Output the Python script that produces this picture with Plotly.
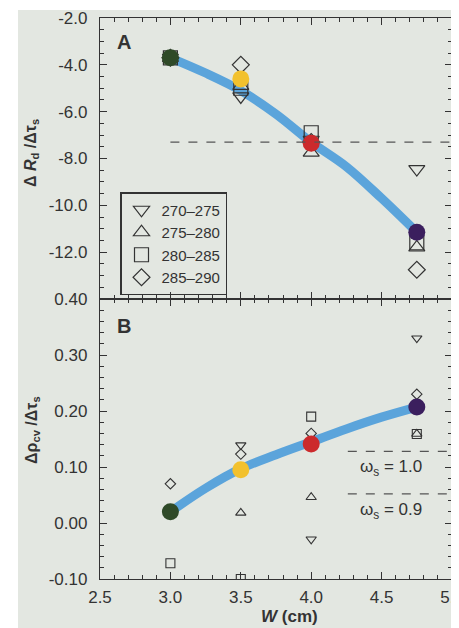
import plotly.graph_objects as go

# ---- data ----
W = [3.0, 3.5, 4.0, 4.75]
series_names = ["270–275", "275–280", "280–285", "285–290"]

A_270 = [-3.7, -5.35, -7.2, -8.45]
A_275 = [-3.7, -4.9, -7.75, -11.8]
A_280 = [-3.7, -5.0, -6.9, -11.6]
A_285 = [-3.7, -4.0, -7.3, -12.75]
A_mean = [-3.7, -4.6, -7.35, -11.15]

B_270 = [0.02, 0.139, -0.029, 0.33]
B_275 = [0.02, 0.018, 0.046, 0.159]
B_280 = [-0.072, -0.10, 0.19, 0.159]
B_285 = [0.07, 0.123, 0.16, 0.23]
B_mean = [0.02, 0.095, 0.141, 0.207]

fit_W = [3.0, 3.25, 3.5, 3.75, 4.0, 4.25, 4.5, 4.75]
fit_A = [-3.7, -4.35, -5.1, -6.1, -7.3, -8.35, -9.7, -11.15]
fit_B = [0.02, 0.062, 0.097, 0.122, 0.145, 0.168, 0.189, 0.207]

ref_A = -7.3
ref_A_start = 3.0
ref_B = [0.128, 0.052]
ref_B_start = 4.26
omega_labels = ["ω<sub>s</sub> = 1.0", "ω<sub>s</sub> = 0.9"]
omega_y = [0.098, 0.022]
omega_x = 4.57

yA_ticks = [-2.0, -4.0, -6.0, -8.0, -10.0, -12.0]
yB_ticks = [0.40, 0.30, 0.20, 0.10, 0.00, -0.10]
x_ticks = [2.5, 3.0, 3.5, 4.0, 4.5, 5.0]
mean_colors = ["#2f4a28", "#f2c12e", "#cc2a2c", "#3b1f5e"]

FONT = "Liberation Sans, Arial, Helvetica, sans-serif"
INK = "#333333"
BLUE = "#5ba4db"
symbols = ["triangle-down-open", "triangle-up-open", "square-open", "diamond-open"]
sizesA = [14, 14, 14, 13]
sizesB = [9, 9, 9, 8]


def fmt(v, nd):
    return f"{v:.{nd}f}"


# screen pixel -> paper fraction helpers (page body has an 8px margin)
def px(sx):
    return (sx - 100) / 352


def py(sy):
    return (579 - sy) / 561


fig = go.Figure()

# fitted curves
fig.add_trace(go.Scatter(x=fit_W, y=fit_A, mode="lines", line=dict(color=BLUE, width=9, shape="spline"),
                         showlegend=False, xaxis="x", yaxis="y"))
fig.add_trace(go.Scatter(x=fit_W, y=fit_B, mode="lines", line=dict(color=BLUE, width=9, shape="spline"),
                         showlegend=False, xaxis="x2", yaxis="y2"))

A_sets = [A_270, A_275, A_280, A_285]
B_sets = [B_270, B_275, B_280, B_285]
for name, sym, ya, yb, sa, sb in zip(series_names, symbols, A_sets, B_sets, sizesA, sizesB):
    fig.add_trace(go.Scatter(x=W, y=ya, mode="markers", name=name,
                             marker=dict(symbol=sym, size=sa, color=INK, line=dict(width=1.2, color=INK)),
                             xaxis="x", yaxis="y"))
    fig.add_trace(go.Scatter(x=W, y=yb, mode="markers", name=name, showlegend=False,
                             marker=dict(symbol=sym, size=sb, color=INK, line=dict(width=1.1, color=INK)),
                             xaxis="x2", yaxis="y2"))

fig.add_trace(go.Scatter(x=W, y=A_mean, mode="markers", showlegend=False,
                         marker=dict(symbol="circle", size=17, color=mean_colors, line=dict(width=0)),
                         xaxis="x", yaxis="y"))
fig.add_trace(go.Scatter(x=W, y=B_mean, mode="markers", showlegend=False,
                         marker=dict(symbol="circle", size=17, color=mean_colors, line=dict(width=0)),
                         xaxis="x2", yaxis="y2"))

split = 280 / 561

axis_common = dict(showline=True, linecolor=INK, linewidth=1.3, mirror="ticks", ticks="inside",
                   tickcolor=INK, tickwidth=1.2, showgrid=False, zeroline=False, automargin=False,
                   ticklabeloverflow="allow",
                   tickfont=dict(family=FONT, size=17, color=INK))
minor_common = dict(ticklen=4, ticks="inside", tickcolor=INK, tickwidth=1)

fig.update_layout(
    template="none",
    width=459, height=628,
    margin=dict(l=92, r=15, t=10, b=57),
    paper_bgcolor="white", plot_bgcolor="rgba(0,0,0,0)",
    font=dict(family=FONT, color=INK),
    xaxis=dict(axis_common, domain=[0, 1], anchor="y", range=[2.5, 5.0], tickvals=x_ticks,
               showticklabels=False, ticklen=7, minor=dict(minor_common, dtick=0.1)),
    yaxis=dict(axis_common, domain=[split, 1], anchor="x", range=[-14.0, -2.0], tickvals=yA_ticks,
               ticktext=[fmt(v, 1) for v in yA_ticks], ticklen=7, ticklabelstandoff=8,
               minor=dict(minor_common, dtick=0.5)),
    xaxis2=dict(axis_common, domain=[0, 1], anchor="y2", range=[2.5, 5.0], tickvals=x_ticks,
                ticktext=[fmt(v, 1) for v in x_ticks], ticklen=7, ticklabelstandoff=2,
                minor=dict(minor_common, dtick=0.1)),
    yaxis2=dict(axis_common, domain=[0, split], anchor="x2", range=[-0.10, 0.40], tickvals=yB_ticks,
                ticktext=[fmt(v, 2) for v in yB_ticks], ticklen=7, ticklabelstandoff=8,
                minor=dict(minor_common, dtick=0.02)),
    legend=dict(x=px(120), y=py(192), xanchor="left", yanchor="top",
                bordercolor=INK, borderwidth=1.5, bgcolor="rgba(0,0,0,0)",
                font=dict(family=FONT, size=15, color=INK), itemwidth=30, tracegroupgap=0),
    showlegend=True,
)

shapes = [
    dict(type="rect", xref="paper", yref="paper", x0=px(18), x1=1.2,
         y0=-0.2, y1=py(10), fillcolor="#e3e7e1", line=dict(width=0), layer="below"),
    dict(type="line", xref="x", yref="y", x0=ref_A_start, x1=5.0, y0=ref_A, y1=ref_A,
         line=dict(color="#555555", width=1.3, dash="dash")),
]
for yv in ref_B:
    shapes.append(dict(type="line", xref="x2", yref="y2", x0=ref_B_start, x1=5.0, y0=yv, y1=yv,
                       line=dict(color="#555555", width=1.3, dash="dash")))
fig.update_layout(shapes=shapes)

ann = [
    dict(text="<b>A</b>", xref="paper", yref="paper", x=px(124), y=py(42),
         xanchor="center", yanchor="middle", showarrow=False, font=dict(family=FONT, size=20, color=INK)),
    dict(text="<b>B</b>", xref="paper", yref="paper", x=px(124), y=py(326),
         xanchor="center", yanchor="middle", showarrow=False, font=dict(family=FONT, size=20, color=INK)),
    dict(text="<b>Δ <i>R</i><sub>d</sub> /Δτ<sub>s</sub></b>", xref="paper", yref="paper",
         x=px(32), y=py(153), textangle=-90, showarrow=False,
         xanchor="center", yanchor="middle", font=dict(family=FONT, size=16, color=INK)),
    dict(text="<b>Δρ<sub>cv</sub> /Δτ<sub>s</sub></b>", xref="paper", yref="paper",
         x=px(32), y=py(430), textangle=-90, showarrow=False,
         xanchor="center", yanchor="middle", font=dict(family=FONT, size=16, color=INK)),
    dict(text="<b><i>W</i> (cm)</b>", xref="paper", yref="paper", x=px(289),
         y=py(616), xanchor="center", yanchor="middle", showarrow=False,
         font=dict(family=FONT, size=17, color=INK)),
]
for lab, yv in zip(omega_labels, omega_y):
    ann.append(dict(text=lab, xref="x2", yref="y2", x=omega_x, y=yv, showarrow=False,
                    xanchor="center", yanchor="middle", font=dict(family=FONT, size=17, color=INK)))
fig.update_layout(annotations=ann)

fig.write_html("out.html")
